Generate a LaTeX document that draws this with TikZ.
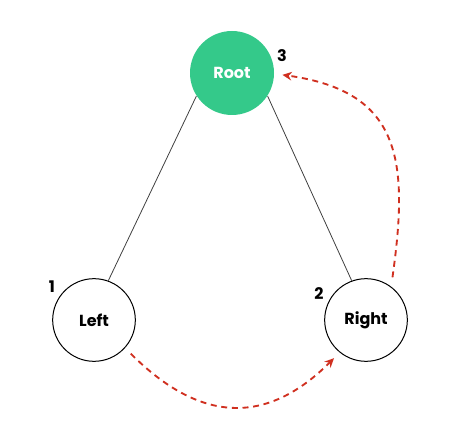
\documentclass[tikz,border=0pt]{standalone}
\usepackage{fontspec}
\setmainfont{Poppins}
\usetikzlibrary{arrows.meta}
\definecolor{rootgreen}{RGB}{52,201,138}
\definecolor{orderred}{RGB}{208,48,32}

\begin{document}
\begin{tikzpicture}[x=0.75pt,y=0.75pt,yscale=-1,xscale=1,
  treenode/.style={circle,draw=black,line width=0.75pt,minimum size=62pt,inner sep=0pt,font=\fontsize{12}{14}\selectfont\bfseries},
  rootnode/.style={treenode,draw=none,fill=rootgreen,text=white,minimum size=63pt},
  ordernum/.style={inner sep=0.75pt,font=\fontsize{12}{14}\selectfont\bfseries},
  treeline/.style={draw=black!75,line width=0.6pt},
  visit/.style={draw=orderred,line width=1.4pt,dash pattern=on 4.5pt off 3.5pt,-{Stealth[length=7pt,width=6.5pt]}}]

%set diagram size
\useasboundingbox (0,0) rectangle (474,434);

%Shape: Circle [Root]
\node [rootnode] (root) at (232,73) {Root};
%Shape: Circle [Left]
\node [treenode] (left) at (94,320) {Left};
%Shape: Circle [Right]
\node [treenode] (right) at (366,320) {Right};

%Straight Lines
\draw [treeline] (root.213) -- (left.70);
\draw [treeline] (root.327) -- (right.110);

%Curve Lines
\draw [visit,shorten <=6pt,shorten >=6pt] (left.-42) to[out=45,in=135,looseness=1.25] (right.-129);
%Curve Lines
\draw [visit,shorten <=7pt,shorten >=6pt] (right.53) to[out=-82,in=8,looseness=1.35] (root.-1);

% Text Node
\node [ordernum] (num3) at (282,56) {3};
% Text Node
\node [ordernum] (num1) at (52,287) {1};
% Text Node
\node [ordernum] (num2) at (319,294) {2};

\end{tikzpicture}
\end{document}
